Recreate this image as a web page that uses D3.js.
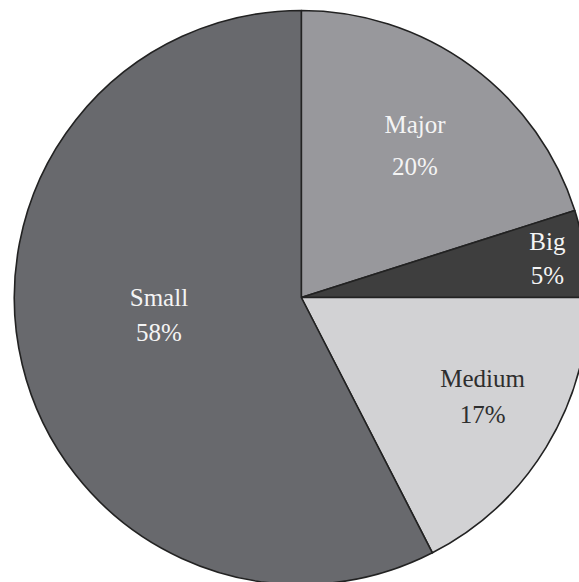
<!DOCTYPE html>
<html>
<head>
<meta charset="utf-8">
<script src="https://cdn.jsdelivr.net/npm/d3@7"></script>
<style>
  html, body { margin: 0; padding: 0; background: #fff; }
  svg { display: block; }
  text { font-family: "Liberation Serif", "DejaVu Serif", serif; }
</style>
</head>
<body>
<svg id="chart" width="579" height="582"></svg>
<script>
// slice data, clockwise from 12 o'clock
const categories = ['Major', 'Big', 'Medium', 'Small'];
const values = [20.1, 4.9, 17.45, 57.55];

const colors = ['#98989c', '#3e3e3e', '#d2d2d4', '#68696d'];
const textColors = ['#f4f4f4', '#f4f4f4', '#2e2e2e', '#f4f4f4'];

// where the labels sit inside each slice (radius fraction, angle nudge in deg, line gap)
const labelLayout = {
  Major: { r: 0.66, da: 0.7, gap: 42 },
  Big: { r: 0.868, da: -0.1, gap: 34 },
  Medium: { r: 0.72, da: -2.7, gap: 36 },
  Small: { r: 0.5, da: 6.4, gap: 35 }
};

const cx = 301.3;
const cy = 297.5;
const radius = 287;

const svg = d3.select('#chart');
const g = svg.append('g').attr('transform', `translate(${cx},${cy})`);

const data = categories.map((c, i) => ({ name: c, value: values[i], i: i }));
const total = d3.sum(values);

const pie = d3
  .pie()
  .value(d => d.value)
  .sort(null);

const arc = d3
  .arc()
  .innerRadius(0)
  .outerRadius(radius);

const arcs = pie(data);

g.selectAll('path.slice')
  .data(arcs)
  .join('path')
  .attr('class', 'slice')
  .attr('d', arc)
  .attr('fill', d => colors[d.data.i])
  .attr('stroke', '#222')
  .attr('stroke-width', 1.6)
  .attr('stroke-linejoin', 'round');

const fontSize = 25;

const labels = g
  .selectAll('g.label')
  .data(arcs)
  .join('g')
  .attr('class', 'label')
  .attr('transform', d => {
    const lay = labelLayout[d.data.name];
    const a = (d.startAngle + d.endAngle) / 2 + (lay.da * Math.PI) / 180;
    const rr = radius * lay.r;
    return `translate(${rr * Math.sin(a)},${-rr * Math.cos(a)})`;
  });

labels.each(function(d) {
  const lay = labelLayout[d.data.name];
  const sel = d3.select(this);
  const pct = Math.round((d.data.value / total) * 100) + '%';
  const lines = [d.data.name, pct];
  lines.forEach((t, k) => {
    sel
      .append('text')
      .attr('text-anchor', 'middle')
      .attr('y', (k - 0.5) * lay.gap + fontSize * 0.33)
      .attr('font-size', fontSize)
      .attr('fill', textColors[d.data.i])
      .text(t);
  });
});
</script>
</body>
</html>
